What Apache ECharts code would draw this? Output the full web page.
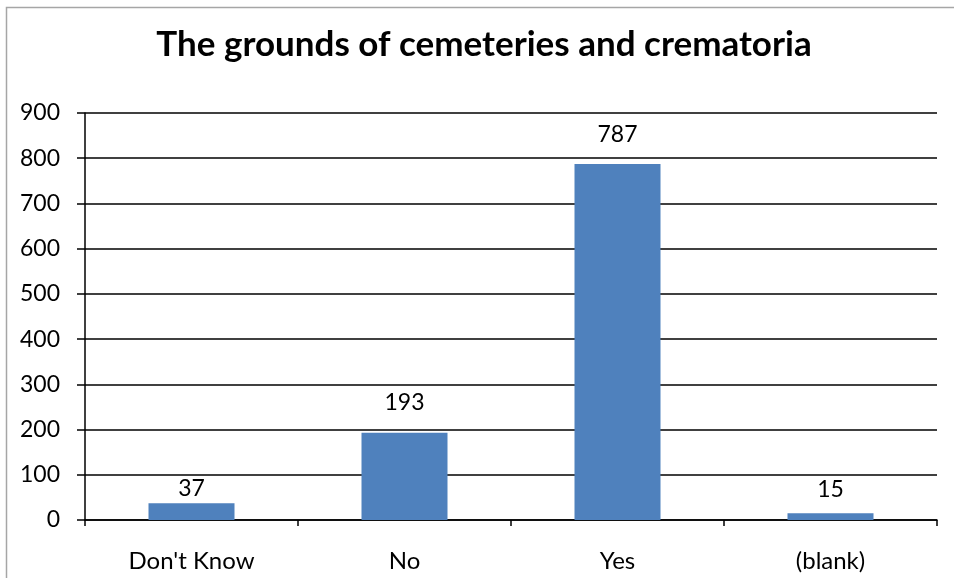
<!DOCTYPE html>
<html><head><meta charset="utf-8">
<script src="https://cdn.jsdelivr.net/npm/echarts@6/dist/echarts.min.js"></script>
<style>html,body{margin:0;padding:0;background:#fff}#c{width:954px;height:578px}</style>
</head><body><div id="c"></div>
<script>
const titleText = 'The grounds of cemeteries and crematoria';
const categories = ["Don't Know", 'No', 'Yes', '(blank)'];
const values = [37, 193, 787, 15];
const yTicks = {min: 0, max: 900, interval: 100};
const font = 'Lato';
const labelGap = [3, 19, 18, 12];
const chart = echarts.init(document.getElementById('c'));
chart.setOption({
  animation: false,
  graphic: [
    {type: 'rect', shape: {x: 6.5, y: 7.5, width: 1000, height: 1000}, style: {fill: 'none', stroke: '#a6a6a6', lineWidth: 1.5}, z: -1},
    {type: 'text', x: 484, y: 27, style: {text: titleText, fontFamily: font, fontWeight: 'bold', fontSize: 35, fill: '#000', textAlign: 'center', textVerticalAlign: 'top'}}
  ],
  grid: {left: 85, right: 17, top: 113, bottom: 58},
  xAxis: {type: 'category', data: categories,
    axisLine: {lineStyle: {color: '#000', width: 1.5}},
    axisTick: {show: true, length: 6, lineStyle: {color: '#000', width: 1.5}},
    axisLabel: {fontFamily: font, fontSize: 24, color: '#000', margin: 29}},
  yAxis: {type: 'value', min: yTicks.min, max: yTicks.max, interval: yTicks.interval,
    axisLine: {show: true, lineStyle: {color: '#000', width: 1.5}},
    axisTick: {show: true, length: 8, lineStyle: {color: '#000', width: 1.5}},
    splitLine: {lineStyle: {color: '#000', width: 1.5}},
    axisLabel: {fontFamily: font, fontSize: 23, color: '#000', margin: 25}},
  series: [{type: 'bar', barWidth: 86, itemStyle: {color: '#4f81bd'},
    data: values.map((v, i) => ({value: v, label: {distance: labelGap[i]}})),
    label: {show: true, position: 'top', fontFamily: font, fontSize: 23, color: '#000'}}]
});
</script></body></html>
